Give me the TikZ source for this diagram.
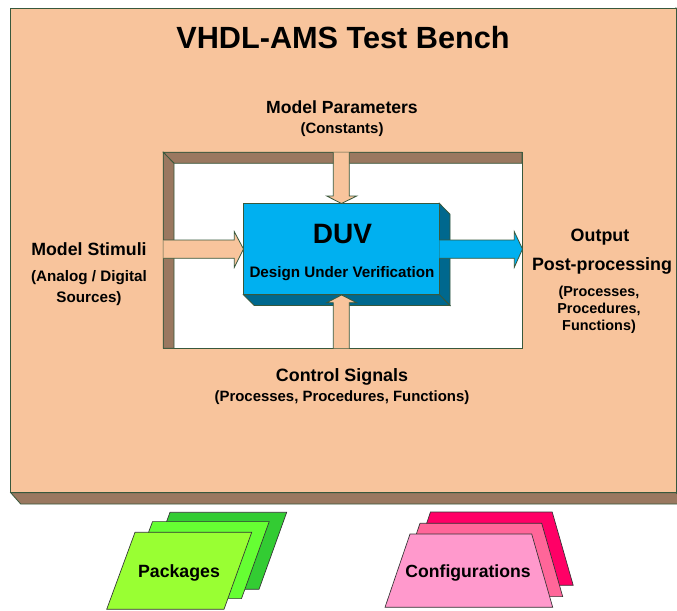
\documentclass[tikz,border=0pt]{standalone}
\usepackage{fontspec}
\setmainfont{Liberation Sans}
\begin{document}
\begin{tikzpicture}[x=0.75pt,y=-0.75pt,line join=miter,
  edge/.style={draw=edgegreen,line width=0.6pt},
  lbl/.style={font=\bfseries,anchor=base,inner sep=0pt,align=center},
  sheet/.style={draw=black!80,line width=0.5pt}]
\definecolor{peach}{RGB}{248,196,156}
\definecolor{bevel}{RGB}{154,120,96}
\definecolor{edgegreen}{RGB}{56,88,60}
\definecolor{duvfront}{RGB}{0,176,240}
\definecolor{duvside}{RGB}{0,104,142}
\definecolor{pkgA}{RGB}{51,204,51}
\definecolor{pkgB}{RGB}{102,255,51}
\definecolor{pkgC}{RGB}{153,255,51}
\definecolor{cfgA}{RGB}{255,0,102}
\definecolor{cfgB}{RGB}{255,102,153}
\definecolor{cfgC}{RGB}{255,153,204}

\useasboundingbox (0,0) rectangle (677,610);
\clip (0,0) rectangle (677,610);

% test bench slab with its depth faces
\path[fill=bevel,edge] (10.7,492.7) -- (20.7,504) -- (688,504) -- (676,492.7) -- cycle;
\path[fill=bevel,edge] (676,8) -- (688,19) -- (688,504) -- (676,492.7) -- cycle;
\path[fill=peach,edge] (10.7,8) rectangle (676,492.7);

% recessed frame around the design
\path[fill=white,edge] (163.3,152.3) rectangle (522,348.3);
\path[fill=bevel,edge] (163.3,152.3) -- (522,152.3) -- (522,163.3) -- (174,163.3) -- cycle;
\path[fill=bevel,edge] (163.3,152.3) -- (174,163.3) -- (174,348.3) -- (163.3,348.3) -- cycle;

% design under verification block
\path[fill=duvside,edge] (439.3,203.3) -- (450,214.3) -- (450,305.5) -- (439.3,294.7) -- cycle;
\path[fill=duvside,edge] (243.3,294.7) -- (254.3,305.5) -- (450,305.5) -- (439.3,294.7) -- cycle;
\path[fill=duvfront,edge] (243.3,203.3) rectangle (439.3,294.7);

% block arrows into and out of the design
\path[fill=peach,edge] (333.3,152.3) -- (333.3,196) -- (326.7,196) -- (341.5,203.5)
  -- (356.7,196) -- (349.3,196) -- (349.3,152.3);
\path[fill=peach,edge] (163.3,240) -- (234.3,240) -- (234.3,231.7) -- (243.5,249)
  -- (234.3,267.3) -- (234.3,258.3) -- (163.3,258.3);
\path[fill=peach,edge] (333.3,348.3) -- (333.3,302.7) -- (326.7,302.7) -- (341.5,295)
  -- (356.7,302.7) -- (349.3,302.7) -- (349.3,348.3);
\path[fill=duvfront,edge] (439.3,240) -- (514.3,240) -- (514.3,231.7) -- (522.5,249)
  -- (514.3,267.3) -- (514.3,258.3) -- (439.3,258.3);

% labels
\node[lbl,font=\bfseries\fontsize{23}{27}\selectfont] (title) at (343,49) {VHDL-AMS Test Bench};
\node[lbl,font=\bfseries\fontsize{13.2}{16}\selectfont] (par) at (342,113) {Model Parameters};
\node[lbl,font=\bfseries\fontsize{11.2}{14}\selectfont] (parsub) at (342,133.5) {(Constants)};
\node[lbl,font=\bfseries\fontsize{13.3}{16}\selectfont] (stim) at (89,255) {Model Stimuli};
\node[lbl,font=\bfseries\fontsize{11.4}{14}\selectfont] (stimA) at (89,281) {(Analog / Digital};
\node[lbl,font=\bfseries\fontsize{11.4}{14}\selectfont] (stimB) at (89,302) {Sources)};
\node[lbl,font=\bfseries\fontsize{13.4}{16}\selectfont] (out) at (600,241) {Output};
\node[lbl,font=\bfseries\fontsize{13.4}{16}\selectfont] (post) at (602,270.5) {Post-processing};
\node[lbl,font=\bfseries\fontsize{10.8}{13}\selectfont] (postA) at (599,296.5) {(Processes,};
\node[lbl,font=\bfseries\fontsize{10.8}{13}\selectfont] (postB) at (599,313.7) {Procedures,};
\node[lbl,font=\bfseries\fontsize{10.8}{13}\selectfont] (postC) at (599,330.5) {Functions)};
\node[lbl,font=\bfseries\fontsize{13.4}{16}\selectfont] (ctl) at (342,381) {Control Signals};
\node[lbl,font=\bfseries\fontsize{11.2}{14}\selectfont] (ctlsub) at (342,401) {(Processes, Procedures, Functions)};
\node[lbl,font=\bfseries\fontsize{21}{25}\selectfont] (duv) at (342.5,243) {DUV};
\node[lbl,font=\bfseries\fontsize{11.4}{14}\selectfont] (duvsub) at (342,277.4) {Design Under Verification};

% stacked package sheets
\foreach \dx/\dy/\col in {35/-20/pkgA, 17.5/-10.7/pkgB, 0/0/pkgC}{
  \path[sheet,fill=\col] (135+\dx,532.3+\dy) -- (251.7+\dx,532.3+\dy)
    -- (224+\dx,609.3+\dy) -- (106.7+\dx,609.3+\dy) -- cycle;
}
\node[lbl,font=\bfseries\fontsize{13.3}{16}\selectfont] (pkg) at (179,577) {Packages};

% stacked configuration sheets
\foreach \dx/\dy/\col in {20.5/-22/cfgA, 10/-10.7/cfgB, 0/0/cfgC}{
  \path[sheet,fill=\col] (410+\dx,534+\dy) -- (531.7+\dx,534+\dy)
    -- (552.7+\dx,607.3+\dy) -- (385+\dx,607.3+\dy) -- cycle;
}
\node[lbl,font=\bfseries\fontsize{13.2}{16}\selectfont] (cfg) at (468,577) {Configurations};
\end{tikzpicture}
\end{document}
